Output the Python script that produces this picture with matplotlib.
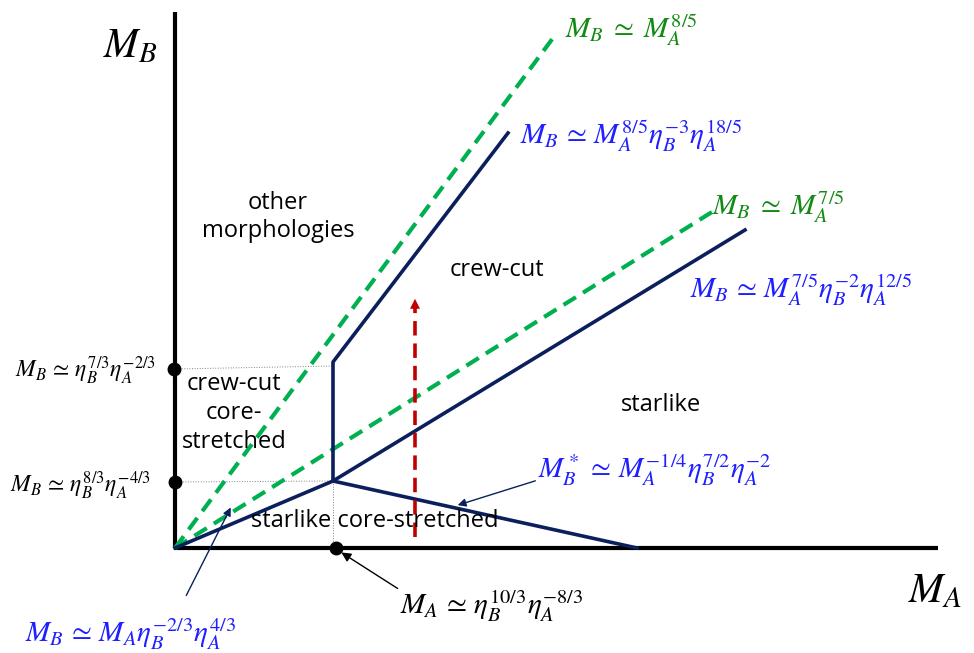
import matplotlib.pyplot as plt

plt.rcParams['mathtext.fontset'] = 'stix'

# diagram vertices (pixel-like units, y downward)
origin = (175, 548)
x_axis_end = (938, 548)
y_axis_end = (175, 12)
junction = (333, 481)
kink = (333, 362)
crew_end = (508, 133)
star_end = (745, 230)
star_core_end = (637, 548)
green_steep_end = (553, 38)
green_shallow_end = (712, 212)
red_arrow = [(415, 537), (415, 296)]
y_dots = [(174, 369), (175, 482)]
x_dot = (336, 548)

navy = '#0b1f5c'
green = '#00b050'
red = '#c00000'
blue = '#1f1fff'
gtext = '#138a13'

fig = plt.figure(figsize=(9.74, 6.53), dpi=100)
ax = fig.add_axes([0, 0, 1, 1])
ax.set_xlim(0, 974)
ax.set_ylim(653, 0)
ax.axis('off')

# axes
ax.plot([origin[0], x_axis_end[0]], [origin[1], x_axis_end[1]], color='black', lw=3, solid_capstyle='butt')
ax.plot([origin[0], y_axis_end[0]], [origin[1], y_axis_end[1]], color='black', lw=3, solid_capstyle='butt')

# gray dotted guides
ax.plot([y_dots[0][0], kink[0]], [y_dots[0][1], 366], color='gray', lw=0.7, ls=':')
ax.plot([y_dots[1][0], junction[0]], [y_dots[1][1], junction[1]], color='gray', lw=0.7, ls=':')
ax.plot([junction[0], junction[0]], [junction[1], origin[1]], color='gray', lw=0.7, ls=':')

# green dashed lines
for end in (green_steep_end, green_shallow_end):
    ax.plot([origin[0], end[0]], [origin[1], end[1]], color=green, lw=3, dashes=(3.5, 2))

# navy boundaries
ax.plot([origin[0], junction[0], star_end[0]], [origin[1], junction[1], star_end[1]], color=navy, lw=2.6)
ax.plot([junction[0], kink[0], crew_end[0]], [junction[1], kink[1], crew_end[1]], color=navy, lw=2.6)
ax.plot([junction[0], star_core_end[0]], [junction[1], star_core_end[1]], color=navy, lw=2.6)

# red dashed arrow
ax.plot([red_arrow[0][0], red_arrow[1][0]], [red_arrow[0][1], red_arrow[1][1] + 10], color=red, lw=2.6, dashes=(4, 2.2))
ax.annotate('', xy=red_arrow[1], xytext=(red_arrow[1][0], red_arrow[1][1] + 12),
            arrowprops=dict(arrowstyle='-|>', color=red, lw=0, mutation_scale=18))

# dots
for p in y_dots + [x_dot]:
    ax.plot(p[0], p[1], 'o', color='black', ms=9)

# annotation arrows
ax.annotate('', xy=(232, 505), xytext=(185, 598),
            arrowprops=dict(arrowstyle='-|>', color=navy, lw=1, mutation_scale=12))
ax.annotate('', xy=(339, 551), xytext=(400, 590),
            arrowprops=dict(arrowstyle='-|>', color='black', lw=1, mutation_scale=14))
ax.annotate('', xy=(455, 506), xytext=(538, 480),
            arrowprops=dict(arrowstyle='-|>', color=navy, lw=1, mutation_scale=12))

# axis labels
ax.text(103, 45, r'$M_B$', fontsize=30, va='center', ha='left')
ax.text(908, 590, r'$M_A$', fontsize=30, va='center', ha='left')

# region labels
sans = 'Open Sans'
fs = 17
ax.text(278, 217, 'other\nmorphologies', fontsize=fs, family=sans, ha='center', va='center', linespacing=1.25)
ax.text(497, 270, 'crew-cut', fontsize=fs, family=sans, ha='center', va='center')
ax.text(661, 405, 'starlike', fontsize=fs, family=sans, ha='center', va='center')
ax.text(234, 413, 'crew-cut\ncore-\nstretched', fontsize=fs, family=sans, ha='center', va='center', linespacing=1.25)
ax.text(375, 521, 'starlike core-stretched', fontsize=fs, family=sans, ha='center', va='center')

# formulas
sim = r'\,\simeq\,'
ax.text(565, 30, r'$M_B\;\simeq\;M_A^{8/5}$', fontsize=21, color=gtext, va='center')
ax.text(520, 136, r'$M_B' + sim + r'M_A^{8/5}\eta_B^{-3}\eta_A^{18/5}$', fontsize=21, color=blue, va='center')
ax.text(712, 207, r'$M_B\;\simeq\;M_A^{7/5}$', fontsize=21, color=gtext, va='center')
ax.text(690, 290, r'$M_B' + sim + r'M_A^{7/5}\eta_B^{-2}\eta_A^{12/5}$', fontsize=21, color=blue, va='center')
ax.text(538, 470, r'$M_B^*' + sim + r'M_A^{-1/4}\eta_B^{7/2}\eta_A^{-2}$', fontsize=21, color=blue, va='center')
ax.text(25, 634, r'$M_B' + sim + r'M_A\eta_B^{-2/3}\eta_A^{4/3}$', fontsize=21, color=blue, va='center')
ax.text(400, 606, r'$M_A' + sim + r'\eta_B^{10/3}\eta_A^{-8/3}$', fontsize=21, color='black', va='center')
ax.text(15, 371, r'$M_B\,\simeq\,\eta_B^{7/3}\eta_A^{-2/3}$', fontsize=17, color='black', va='center')
ax.text(10, 486, r'$M_B\,\simeq\,\eta_B^{8/3}\eta_A^{-4/3}$', fontsize=17, color='black', va='center')

fig.savefig('out.png', dpi=100)
